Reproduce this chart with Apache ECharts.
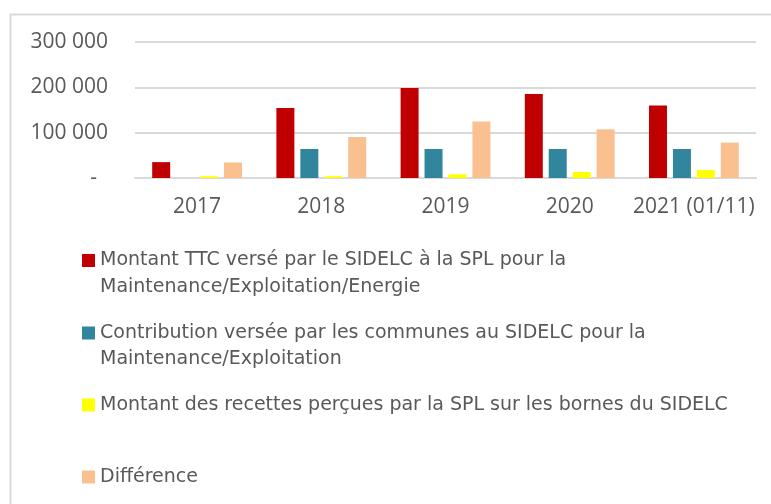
<!DOCTYPE html>
<html>
<head>
    <meta charset="utf-8">
    <title>SIDELC</title>
    <script src="https://cdn.jsdelivr.net/npm/echarts@6/dist/echarts.min.js"></script>
    <style type="text/css">
    html,body{margin:0;padding:0;background:#fff;}
    #main{width:771px;height:504px;}
    </style>
</head>
<body>
    <div id="main"></div>
    <script>
    // années
    var years = ['2017', '2018', '2019', '2020', '2021 (01/11)'];

    var names = [
        'Montant TTC versé par le SIDELC à la SPL pour la Maintenance/Exploitation/Energie',
        'Contribution versée par les communes au SIDELC pour la Maintenance/Exploitation',
        'Montant des recettes perçues par la SPL sur les bornes du SIDELC',
        'Différence'
    ];
    // lignes du texte de légende
    var legendLines = [
        ['Montant TTC versé par le SIDELC à la SPL pour la', 'Maintenance/Exploitation/Energie'],
        ['Contribution versée par les communes au SIDELC pour la', 'Maintenance/Exploitation'],
        ['Montant des recettes perçues par la SPL sur les bornes du SIDELC'],
        ['Différence']
    ];

    var montantSPL = [35000, 154500, 198500, 185300, 159700];
    var contribution = [0, 64000, 64000, 64000, 64000];
    var recettes = [3800, 3800, 8200, 13200, 17600];
    var difference = [34200, 90400, 124400, 107400, 78100];

    var yTicks = [0, 100000, 200000, 300000];

    var colors = ['#C00000', '#31859C', '#FFFF00', '#FAC090'];
    var values = [montantSPL, contribution, recettes, difference];

    var chart = echarts.init(document.getElementById('main'));

    var txtColor = '#595959';
    var lineH = 26.5;
    var iconY = [260.5, 333, 405, 477];

    var legends = [];
    for (var i = 0; i < names.length; i++) {
        var lines = legendLines[i];
        var h = lines.length > 1 ? lineH * 3 : lineH;
        legends.push({
            data: [names[i]],
            left: 82,
            top: iconY[i] - h / 2,
            padding: 0,
            itemWidth: 13,
            itemHeight: 13,
            icon: 'rect',
            selectedMode: false,
            formatter: (function (l) {
                return function () {
                    return l.length > 1 ? '\n' + l.join('\n') : l[0];
                };
            })(lines),
            textStyle: {
                color: txtColor,
                fontFamily: 'DejaVu Sans',
                fontSize: 19,
                lineHeight: lineH
            }
        });
    }

    var series = [];
    for (var j = 0; j < names.length; j++) {
        series.push({
            name: names[j],
            type: 'bar',
            data: values[j],
            barWidth: 18,
            barGap: '33%',
            itemStyle: {color: colors[j]}
        });
    }

    var option = {
        backgroundColor: '#fff',
        animation: false,
        color: colors,
        legend: legends,
        grid: {
            left: 135,
            right: 15,
            top: 42,
            bottom: 326
        },
        graphic: [{
            type: 'rect',
            silent: true,
            shape: {x: 10.5, y: 14.5, width: 900, height: 700},
            style: {fill: 'none', stroke: '#d9d9d9', lineWidth: 2}
        }],
        xAxis: {
            type: 'category',
            data: years,
            axisTick: {show: false},
            axisLine: {lineStyle: {color: '#d9d9d9', width: 2}},
            axisLabel: {
                interval: 0,
                color: txtColor,
                fontFamily: 'Open Sans',
                fontSize: 21,
                margin: 19
            }
        },
        yAxis: {
            type: 'value',
            min: yTicks[0],
            max: yTicks[yTicks.length - 1],
            interval: yTicks[1] - yTicks[0],
            axisLine: {show: false},
            axisTick: {show: false},
            splitLine: {lineStyle: {color: '#d9d9d9', width: 2}},
            axisLabel: {
                color: txtColor,
                fontFamily: 'Open Sans',
                fontSize: 21,
                margin: 27,
                formatter: function (v) {
                    if (v === 0) return '-  ';
                    return String(v).replace(/\B(?=(\d{3})+(?!\d))/g, ' ');
                }
            }
        },
        series: series
    };

    chart.setOption(option);
    </script>
</body>
</html>
